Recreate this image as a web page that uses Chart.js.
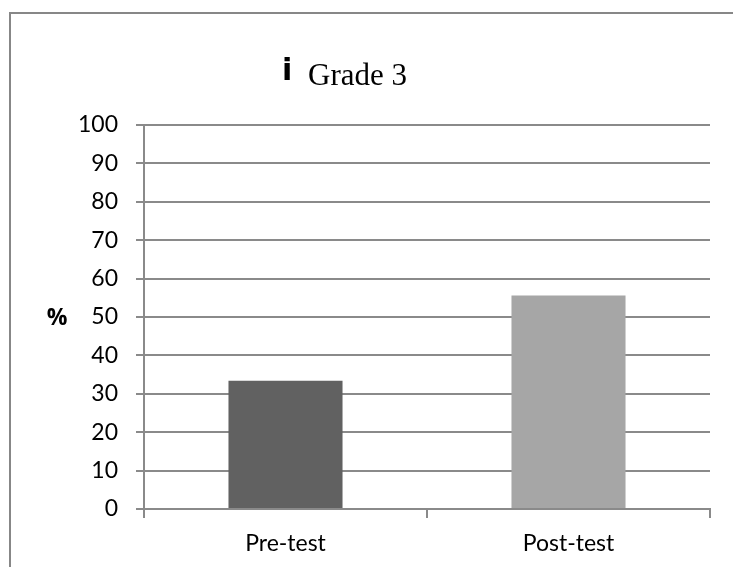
<!DOCTYPE html>
<html>
<head>
<meta charset="utf-8">
<script src="https://cdn.jsdelivr.net/npm/chart.js@4.4.1/dist/chart.umd.min.js"></script>
<style>
  body { margin: 0; background: #fff; }
  #wrap { position: relative; width: 733px; height: 567px; overflow: hidden; }
  #frame { position: absolute; left: 9px; top: 12px; width: 800px; height: 700px; border: 2px solid #878787; }
  #chart { position: absolute; left: 0; top: 0; }
</style>
</head>
<body>
<div id="wrap">
  <div id="frame"></div>
  <canvas id="chart" width="733" height="567"></canvas>
</div>
<script>
// Grade 3 pre/post test scores (%)
const categories = ['Pre-test', 'Post-test'];
const scores = [33.4, 55.6];
const barColors = ['#616161', '#a6a6a6'];
const chartTitle = 'Grade 3';
const axisLabel = '%';

const gridGray = '#8a8a8a';

// draws the title and the "%" label, which Chart.js can't place like this
const extraText = {
    id: 'extraText',
    afterDraw(chart) {
        const ctx = chart.ctx;
        const area = chart.chartArea;
        ctx.save();
        ctx.fillStyle = '#000';
        ctx.textBaseline = 'alphabetic';

        // odd glyph in front of the title
        ctx.font = 'bold 30px "DejaVu Sans"';
        ctx.textAlign = 'left';
        ctx.fillText('i', area.left + 138, 80);

        ctx.font = '31px "Liberation Serif"';
        ctx.fillText(chartTitle, area.left + 164, 85);

        ctx.font = 'bold 23px "Open Sans"';
        ctx.textAlign = 'center';
        ctx.textBaseline = 'middle';
        ctx.fillText(axisLabel, 57, (area.top + area.bottom) / 2 + 1);
        ctx.restore();
    }
};

new Chart(document.getElementById('chart'), {
    type: 'bar',
    data: {
        labels: categories,
        datasets: [{
            data: scores,
            backgroundColor: barColors,
            borderWidth: 0,
            barPercentage: 0.403,
            categoryPercentage: 1.0
        }]
    },
    options: {
        responsive: false,
        animation: false,
        layout: {
            padding: { top: 125, right: 23, bottom: 0, left: 0 }
        },
        plugins: {
            legend: { display: false },
            title: { display: false },
            tooltip: { enabled: false }
        },
        scales: {
            x: {
                afterFit(scale) { scale.height = 58; },
                grid: {
                    offset: true,
                    drawOnChartArea: false,
                    drawTicks: true,
                    tickLength: 9,
                    color: gridGray,
                    lineWidth: 2
                },
                border: { color: gridGray, width: 2 },
                ticks: {
                    color: '#000',
                    padding: 12,
                    font: { family: 'Lato', size: 23 }
                }
            },
            y: {
                min: 0,
                max: 100,
                afterFit(scale) { scale.width = 144; },
                grid: {
                    color: gridGray,
                    lineWidth: 2,
                    tickLength: 8
                },
                border: { color: gridGray, width: 2 },
                ticks: {
                    stepSize: 10,
                    color: '#000',
                    padding: 18,
                    font: { family: 'Lato', size: 23 }
                }
            }
        }
    },
    plugins: [extraText]
});
</script>
</body>
</html>
